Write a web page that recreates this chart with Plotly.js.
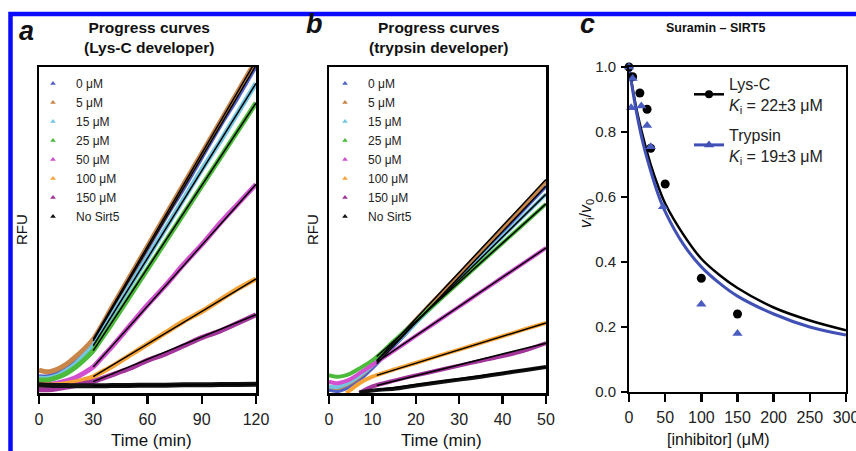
<!DOCTYPE html>
<html><head><meta charset="utf-8">
<script src="https://cdn.plot.ly/plotly-3.0.1.min.js"></script>
<style>html,body{margin:0;padding:0;background:#fff}#chart{width:856px;height:451px}</style>
</head><body><div id="chart"></div>
<script>
// ---------- data ----------
const concLabels = ['0 μM','5 μM','15 μM','25 μM','50 μM','100 μM','150 μM','No Sirt5'];
const seriesColors = ['#5061c6','#c8864a','#74c6e0','#4cbb3c','#d24fd0','#f7a234','#a2349a','#111111'];

// panel a : Lys-C developer (RFU, arbitrary 0-100)
const timeA = [0,5,10,15,20,25,30,35,40,50,60,70,80,90,100,110,120];
const a_0uM   = [5,5,6,7.5,9.5,12.5,16,20.5,25.5,35,44.5,54,63,72.5,82,91,100.5];
const a_5uM   = [7,6.5,7.3,8.8,11,13.5,16.5,21,26,35.5,45,54.5,64,73.5,83,92.5,102];
const a_15uM  = [4.5,4.5,5.3,6.8,8.8,11.5,14.5,19,23.5,32.5,41.5,50.5,59.5,68.5,77,86,95];
const a_25uM  = [4,4,4.8,6,7.8,10.2,13,17,21,29.5,38,46.5,55,63.5,72,80.5,89];
const a_50uM  = [2.5,2.5,3,3.7,4.7,6.2,8,11,14,20.5,27,33,39.5,45.5,52,58,64];
const a_100uM = [2.5,2.5,2.5,2.9,3.4,4.1,5,6.5,8,11.5,15,18.5,22,25,28.5,32,35];
const a_150uM = [1,1,1.3,1.8,2.3,2.9,3.5,4.5,5.5,7.5,10,12,14.5,17,19,21.5,24];
const a_noSirt5 = [2.5,2.4,2.3,2.3,2.2,2.2,2.2,2.2,2.3,2.3,2.4,2.4,2.5,2.5,2.6,2.6,2.7];
const fitA_t = [30,120];
const fitA_start = [16,16.5,14.5,13,8,5,3.5,2.2];
const fitA_end   = [100.5,102,95,89,64,35,24,2.7];

// panel b : trypsin developer
const timeB = [0,2,4,5,7,10,15,20,25,30,35,40,45,50];
const b_0uM   = [1,0.6,1.5,2.2,4,7.7,14.5,21.5,28.5,35.5,42.5,49.5,56.5,63.5];
const b_5uM   = [2,1.5,2.5,3.2,5,8.5,15.5,22.5,29.5,36.5,43.5,50.5,57.5,65];
const b_15uM  = [2,1.8,2.8,3.5,5.3,8.5,15,21.5,28,34.5,41.5,48,54.5,61];
const b_25uM  = [5.5,5,5.5,6,7.5,10,16,22,28,34,40,46,52,58];
const b_50uM  = [3.5,3,3.7,4.3,6,8.6,13,17.5,22,26.5,31,35.5,40,44.5];
const b_100uM = [null,null,0,1,3,5,7.2,9.2,11.3,13.3,15.4,17.4,19.5,21.5];
const b_150uM = [null,null,null,null,0,2,3.8,5.4,6.9,8.4,9.9,11.3,13,15.3];
const b_noSirt5 = [null,null,null,null,0.2,0.8,1.3,2.3,3.2,4.1,5,6,7,8];
const fitB_t = [11,50];
const fitB_start = [9,10,9.8,11.2,9.5,5.4,2.3,0.9];
const fitB_end   = [63.5,65.5,61,58,44.5,21.5,15.3,8];

// panel c : Suramin - SIRT5
const conc_lys   = [0,5,15,25,30,50,100,150];
const ratio_lys  = [1.0,0.97,0.92,0.87,0.75,0.64,0.35,0.24];
const conc_tryp  = [0,5,3,17,25,30,47,100,150];
const ratio_tryp = [1.0,0.965,0.875,0.88,0.82,0.755,0.57,0.27,0.18];
const fitC_x     = [0,10,20,30,40,50,75,100,125,150,200,250,300];
const fitC_lys   = [1.0,0.875,0.78,0.70,0.635,0.58,0.485,0.41,0.36,0.32,0.26,0.22,0.19];
const fitC_tryp  = [1.0,0.865,0.76,0.68,0.61,0.555,0.455,0.385,0.335,0.295,0.24,0.20,0.175];
const legendC    = ['Lys-C<br><i>K</i><sub>i</sub> = 22±3 μM','Trypsin<br><i>K</i><sub>i</sub> = 19±3 μM'];

// ---------- build ----------
const W = 856, H = 451;
const px = v => v / W, py = v => 1 - v / H;
const FONT = 'Liberation Sans, Arial, Helvetica, sans-serif';
const seriesA = [a_0uM,a_5uM,a_15uM,a_25uM,a_50uM,a_100uM,a_150uM,a_noSirt5];
const seriesB = [b_0uM,b_5uM,b_15uM,b_25uM,b_50uM,b_100uM,b_150uM,b_noSirt5];
const traces = [];

function panel(t, series, fitT, fs, fe, xa, ya, lg, bandW) {
  series.forEach((s, i) => {
    traces.push({x: t, y: s, xaxis: xa, yaxis: ya, mode: 'lines', showlegend: false,
      line: {color: seriesColors[i], width: bandW, shape: 'spline', smoothing: 0.7}});
  });
  series.forEach((s, i) => {
    traces.push({x: fitT, y: [fs[i], fe[i]], xaxis: xa, yaxis: ya, mode: 'lines', showlegend: false,
      line: {color: '#000', width: 1.5}});
  });
  concLabels.forEach((lab, i) => {
    traces.push({x: [null], y: [null], xaxis: xa, yaxis: ya, mode: 'markers', name: lab, legend: lg,
      marker: {symbol: 'triangle-up', size: 5, color: seriesColors[i]}});
  });
}
panel(timeA, seriesA, fitA_t, fitA_start, fitA_end, 'x', 'y', 'legend', 5);
panel(timeB, seriesB, fitB_t, fitB_start, fitB_end, 'x2', 'y2', 'legend2', 4);

// panel c
traces.push({x: fitC_x, y: fitC_lys, xaxis: 'x3', yaxis: 'y3', mode: 'lines', showlegend: false,
  line: {color: '#000', width: 2.5, shape: 'spline'}});
traces.push({x: fitC_x, y: fitC_tryp, xaxis: 'x3', yaxis: 'y3', mode: 'lines', showlegend: false,
  line: {color: '#4150b4', width: 3, shape: 'spline'}});
traces.push({x: conc_lys, y: ratio_lys, xaxis: 'x3', yaxis: 'y3', mode: 'markers', showlegend: false,
  cliponaxis: false, marker: {symbol: 'circle', size: 9, color: '#000'}});
traces.push({x: conc_tryp, y: ratio_tryp, xaxis: 'x3', yaxis: 'y3', mode: 'markers', showlegend: false,
  cliponaxis: false, marker: {symbol: 'triangle-up', size: 9, color: '#4a5cc0'}});
traces.push({x: [null], y: [null], xaxis: 'x3', yaxis: 'y3', mode: 'lines+markers', name: legendC[0], legend: 'legend3',
  legendgroup: 'g1', line: {color: '#000', width: 2.5}, marker: {symbol: 'circle', size: 8, color: '#000'}});
traces.push({x: [null], y: [null], xaxis: 'x3', yaxis: 'y3', mode: 'lines+markers', name: legendC[1], legend: 'legend3',
  legendgroup: 'g2', line: {color: '#4150b4', width: 3}, marker: {symbol: 'triangle-up', size: 9, color: '#4150b4'}});

const boxAxis = {showline: true, linecolor: '#000', linewidth: 2.5, mirror: true, zeroline: false,
  showgrid: false, ticks: 'outside', ticklen: 8, tickwidth: 2.5, tickcolor: '#000',
  tickfont: {size: 16, color: '#222', family: FONT}, ticklabelstandoff: 2, ticklabeloverflow: 'allow'};
const rfuAxis = Object.assign({}, boxAxis, {ticks: '', showticklabels: false, range: [0, 100]});

const yDom = [py(393), py(67)];
const layout = {
  width: W, height: H, margin: {l: 0, r: 0, t: 0, b: 0},
  paper_bgcolor: '#fff', plot_bgcolor: '#fff', font: {family: FONT, color: '#111'},
  showlegend: true,
  xaxis:  Object.assign({}, boxAxis, {domain: [px(39), px(256)], anchor: 'y', range: [0, 120], tickvals: [0,30,60,90,120]}),
  yaxis:  Object.assign({}, rfuAxis, {domain: yDom, anchor: 'x'}),
  xaxis2: Object.assign({}, boxAxis, {domain: [px(329), px(546)], anchor: 'y2', range: [0, 50], tickvals: [0,10,20,30,40,50]}),
  yaxis2: Object.assign({}, rfuAxis, {domain: yDom, anchor: 'x2'}),
  xaxis3: Object.assign({}, boxAxis, {domain: [px(629), px(846)], anchor: 'y3', range: [0, 300], tickvals: [0,50,100,150,200,250,300], linewidth: 2}),
  yaxis3: Object.assign({}, boxAxis, {domain: [py(392), py(67)], anchor: 'x3', range: [0, 1], tickvals: [0,0.2,0.4,0.6,0.8,1.0],
    tickformat: '.1f', ticklen: 6, linewidth: 2, tickfont: {size: 15, color: '#222', family: FONT}}),
  legend:  {x: px(30), y: py(69), xanchor: 'left', yanchor: 'top', itemwidth: 36, bgcolor: 'rgba(0,0,0,0)', font: {size: 12, family: FONT, color: '#222'}},
  legend2: {x: px(322), y: py(69), xanchor: 'left', yanchor: 'top', itemwidth: 36, bgcolor: 'rgba(0,0,0,0)', font: {size: 12, family: FONT, color: '#222'}},
  legend3: {x: px(689), y: py(67), xanchor: 'left', yanchor: 'top', tracegroupgap: 6, bgcolor: 'rgba(0,0,0,0)', font: {size: 16, family: FONT, color: '#222'}},
  shapes: [{type: 'path', xref: 'paper', yref: 'paper', path: `M ${px(10.5)},0 L ${px(10.5)},${py(14)} L 1,${py(14)}`,
    line: {color: '#0a0aff', width: 4.5}}],
  annotations: []
};
function ann(text, x, y, size, opts) {
  layout.annotations.push(Object.assign({text, xref: 'paper', yref: 'paper', x: px(x), y: py(y),
    showarrow: false, xanchor: 'center', yanchor: 'middle', font: {size, family: FONT, color: '#111'}}, opts || {}));
}
ann('<b><i>a</i></b>', 27, 31, 27);
ann('<b><i>b</i></b>', 314, 24, 27);
ann('<b><i>c</i></b>', 587, 24, 27);
ann('<b>Progress curves<br>(Lys-C developer)</b>', 149, 38, 15.5);
ann('<b>Progress curves<br>(trypsin developer)</b>', 439, 38, 15.5);
ann('<b>Suramin – SIRT5</b>', 715, 28, 12.5);
ann('Time (min)', 151, 440, 17);
ann('Time (min)', 441, 440, 17);
ann('[inhibitor] (μM)', 718, 439, 16);
ann('RFU', 21, 230, 15, {textangle: -90});
ann('RFU', 312, 230, 15, {textangle: -90});
ann('<i>v</i><sub>i</sub>/<i>v</i><sub>0</sub>', 586, 214, 16, {textangle: -90});

Plotly.newPlot('chart', traces, layout, {staticPlot: true, displayModeBar: false});
</script></body></html>
